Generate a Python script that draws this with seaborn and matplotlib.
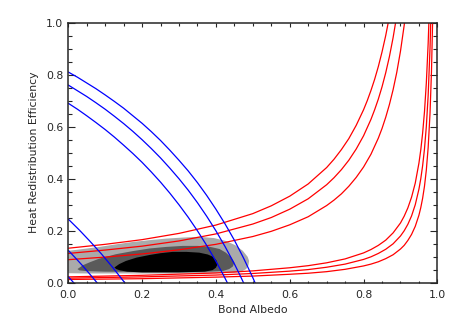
import numpy as np
import pandas as pd
import seaborn as sns
import matplotlib.pyplot as plt

# constant dayside temperature curves (blue)
blue_a1 = [0.0, 0.025, 0.05, 0.075, 0.1, 0.125, 0.15, 0.175, 0.2, 0.225, 0.25, 0.275, 0.3, 0.325,
           0.35, 0.375, 0.4, 0.425, 0.45, 0.475, 0.5, 0.512]
blue_e1 = [0.81, 0.79, 0.768, 0.746, 0.722, 0.697, 0.671, 0.642, 0.613, 0.581, 0.547, 0.51, 0.471, 0.43,
           0.385, 0.336, 0.283, 0.226, 0.164, 0.095, 0.02, -0.019]
blue_a2 = [0.0, 0.025, 0.05, 0.075, 0.1, 0.125, 0.15, 0.175, 0.2, 0.225, 0.25, 0.275, 0.3, 0.325,
           0.35, 0.375, 0.4, 0.425, 0.45, 0.465, 0.48]
blue_e2 = [0.76, 0.738, 0.716, 0.692, 0.667, 0.64, 0.612, 0.582, 0.55, 0.516, 0.48, 0.441, 0.40, 0.356,
           0.308, 0.256, 0.20, 0.139, 0.073, 0.03, -0.015]
blue_a3 = [0.0, 0.025, 0.05, 0.075, 0.1, 0.125, 0.15, 0.175, 0.2, 0.225, 0.25, 0.275, 0.3, 0.325,
           0.35, 0.375, 0.4, 0.42, 0.44]
blue_e3 = [0.69, 0.667, 0.642, 0.616, 0.589, 0.56, 0.529, 0.497, 0.463, 0.426, 0.387, 0.345, 0.30, 0.252,
           0.20, 0.144, 0.083, 0.031, -0.025]
blue_a4 = [0.0, 0.03, 0.06, 0.09, 0.12, 0.15, 0.16]
blue_e4 = [0.245, 0.203, 0.158, 0.111, 0.060, 0.006, -0.013]
blue_a5 = [0.0, 0.02, 0.04, 0.06, 0.08, 0.09]
blue_e5 = [0.125, 0.095, 0.064, 0.031, -0.003, -0.021]
blue_a6 = [0.0, 0.01, 0.02]
blue_e6 = [0.024, 0.008, -0.008]

# constant nightside temperature curves (red)
red_a1 = [0.0, 0.1, 0.2, 0.3, 0.4, 0.5, 0.55, 0.6, 0.65, 0.7, 0.72, 0.74, 0.76, 0.78, 0.8,
          0.81, 0.82, 0.83, 0.84, 0.85, 0.86, 0.87]
red_e1 = [0.133, 0.148, 0.166, 0.19, 0.222, 0.266, 0.296, 0.333, 0.38, 0.443, 0.475, 0.512, 0.554, 0.605, 0.665,
          0.70, 0.739, 0.782, 0.831, 0.887, 0.95, 1.023]
red_a2 = [0.0, 0.1, 0.2, 0.3, 0.4, 0.5, 0.55, 0.6, 0.65, 0.7, 0.72, 0.74, 0.76, 0.78, 0.8,
          0.82, 0.83, 0.84, 0.85, 0.86, 0.87, 0.88, 0.89]
red_e2 = [0.113, 0.126, 0.141, 0.161, 0.188, 0.226, 0.251, 0.283, 0.323, 0.377, 0.404, 0.435, 0.471, 0.514, 0.565,
          0.628, 0.665, 0.706, 0.753, 0.807, 0.869, 0.942, 1.027]
red_a3 = [0.0, 0.1, 0.2, 0.3, 0.4, 0.5, 0.55, 0.6, 0.65, 0.7, 0.72, 0.74, 0.76, 0.78, 0.8,
          0.82, 0.84, 0.85, 0.86, 0.87, 0.88, 0.89, 0.9, 0.91, 0.915]
red_e3 = [0.089, 0.099, 0.111, 0.127, 0.148, 0.178, 0.198, 0.223, 0.254, 0.297, 0.318, 0.342, 0.371, 0.405, 0.445,
          0.494, 0.556, 0.593, 0.636, 0.685, 0.742, 0.809, 0.89, 0.989, 1.047]
red_a4 = [0.0, 0.2, 0.4, 0.5, 0.6, 0.65, 0.7, 0.75, 0.8, 0.82, 0.84, 0.86, 0.88, 0.9, 0.91, 0.92,
          0.93, 0.94, 0.95, 0.955, 0.96, 0.965, 0.97, 0.975, 0.978]
red_e4 = [0.023, 0.029, 0.038, 0.046, 0.058, 0.066, 0.077, 0.092, 0.115, 0.128, 0.144, 0.164, 0.192, 0.23, 0.256, 0.288,
          0.329, 0.383, 0.46, 0.511, 0.575, 0.657, 0.767, 0.92, 1.045]
red_a5 = [0.0, 0.2, 0.4, 0.5, 0.6, 0.65, 0.7, 0.75, 0.8, 0.82, 0.84, 0.86, 0.88, 0.9, 0.91, 0.92,
          0.93, 0.94, 0.95, 0.955, 0.96, 0.965, 0.97, 0.975, 0.98, 0.983]
red_e5 = [0.018, 0.023, 0.03, 0.036, 0.045, 0.051, 0.06, 0.072, 0.09, 0.10, 0.113, 0.129, 0.15, 0.18, 0.20, 0.225,
          0.257, 0.30, 0.36, 0.40, 0.45, 0.514, 0.60, 0.72, 0.90, 1.059]
red_a6 = [0.0, 0.2, 0.4, 0.5, 0.6, 0.65, 0.7, 0.75, 0.8, 0.82, 0.84, 0.86, 0.88, 0.9, 0.91, 0.92,
          0.93, 0.94, 0.95, 0.955, 0.96, 0.965, 0.97, 0.975, 0.98, 0.984, 0.987, 0.988]
red_e6 = [0.013, 0.016, 0.022, 0.026, 0.033, 0.037, 0.043, 0.052, 0.065, 0.072, 0.081, 0.093, 0.108, 0.13, 0.144, 0.163,
          0.186, 0.217, 0.26, 0.289, 0.325, 0.371, 0.433, 0.52, 0.65, 0.813, 1.0, 1.083]

# confidence regions (outlines)
light_a = [0.0, 0.04, 0.084, 0.13, 0.174, 0.22, 0.265, 0.31, 0.355, 0.395, 0.427, 0.452, 0.473, 0.486,
           0.49, 0.488, 0.482, 0.47, 0.45, 0.35, 0.2, 0.1, 0.05, 0.0]
light_e = [0.123, 0.13, 0.138, 0.148, 0.157, 0.164, 0.170, 0.174, 0.177, 0.172, 0.161, 0.145, 0.123, 0.10,
           0.084, 0.067, 0.053, 0.044, 0.038, 0.036, 0.036, 0.036, 0.036, 0.037]
dark_a = [0.025, 0.04, 0.06, 0.084, 0.129, 0.175, 0.22, 0.265, 0.31, 0.35, 0.382, 0.41, 0.427, 0.442,
          0.45, 0.446, 0.436, 0.42, 0.38, 0.3, 0.2, 0.1, 0.05, 0.03]
dark_e = [0.053, 0.068, 0.08, 0.093, 0.11, 0.122, 0.132, 0.138, 0.142, 0.142, 0.139, 0.13, 0.116, 0.097,
          0.078, 0.063, 0.053, 0.046, 0.043, 0.042, 0.042, 0.043, 0.045, 0.048]
black_a = [0.125, 0.138, 0.156, 0.185, 0.22, 0.25, 0.283, 0.32, 0.355, 0.378, 0.391, 0.401, 0.405,
           0.40, 0.391, 0.37, 0.3, 0.2, 0.16, 0.14, 0.13]
black_e = [0.059, 0.072, 0.084, 0.097, 0.107, 0.114, 0.119, 0.119, 0.116, 0.109, 0.101, 0.087, 0.072,
           0.058, 0.049, 0.043, 0.040, 0.040, 0.043, 0.048, 0.053]

sns.set_style('ticks')
plt.rcParams['font.family'] = ['DejaVu Sans']
fig = plt.figure(figsize=(4.58, 3.27), dpi=100)
ax = fig.add_axes([0.149, 0.135, 0.806, 0.796])

ax.fill(light_a, light_e, color='#aaaaaa', lw=0)
ax.fill(dark_a, dark_e, color='#5a5a5a', lw=0)
ax.fill(black_a, black_e, color='black', lw=0)

reds = [(red_a1, red_e1), (red_a2, red_e2), (red_a3, red_e3),
        (red_a4, red_e4), (red_a5, red_e5), (red_a6, red_e6)]
blues = [(blue_a1, blue_e1), (blue_a2, blue_e2), (blue_a3, blue_e3),
         (blue_a4, blue_e4), (blue_a5, blue_e5), (blue_a6, blue_e6)]
for a, e in reds:
    sns.lineplot(x=a, y=e, sort=False, estimator=None, color='#ff0000', lw=0.9, ax=ax)
for a, e in blues:
    sns.lineplot(x=a, y=e, sort=False, estimator=None, color='#0000ff', lw=0.9, ax=ax)

ax.set_xlim(0, 1)
ax.set_ylim(0, 1)
ax.set_xticks([0.0, 0.2, 0.4, 0.6, 0.8, 1.0])
ax.set_yticks([0.0, 0.2, 0.4, 0.6, 0.8, 1.0])
ax.set_xticklabels(['0.0', '0.2', '0.4', '0.6', '0.8', '1.0'])
ax.set_yticklabels(['0.0', '0.2', '0.4', '0.6', '0.8', '1.0'])
ax.set_xticks(np.arange(0, 1.001, 0.05), minor=True)
ax.set_yticks(np.arange(0, 1.001, 0.05), minor=True)
ax.tick_params(axis='x', which='major', direction='in', length=3.2, width=0.8,
               top=True, labelsize=7.8, pad=5.5)
ax.tick_params(axis='x', which='minor', direction='in', length=1.8, width=0.8, top=True)
ax.tick_params(axis='y', which='major', direction='in', length=4.8, width=0.8,
               right=True, labelsize=7.8, pad=3.5)
ax.tick_params(axis='y', which='minor', direction='in', length=3.0, width=0.8, right=True)
for s in ax.spines.values():
    s.set_linewidth(1.1)
ax.set_xlabel('Bond Albedo', fontsize=7.8, labelpad=3)
ax.set_ylabel('Heat Redistribution Efficiency', fontsize=7.8, labelpad=5)

plt.savefig('out.png', dpi=100)
